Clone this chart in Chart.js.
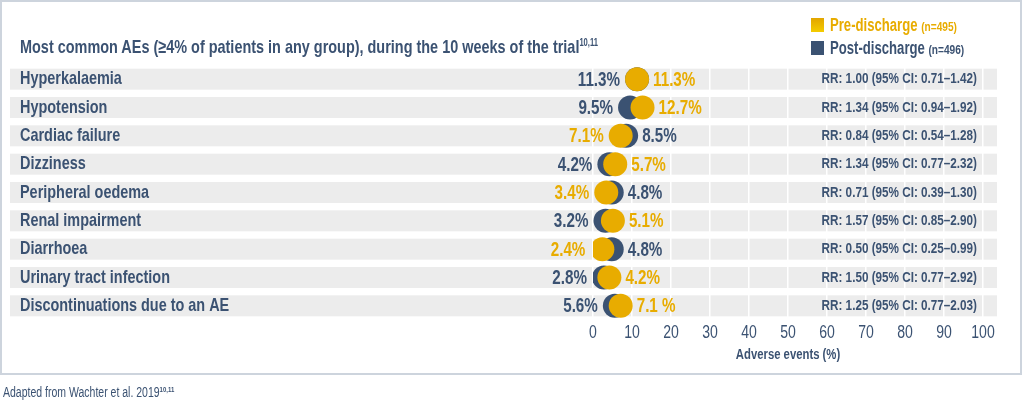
<!DOCTYPE html>
<html>
<head>
<meta charset="utf-8">
<title>Most common AEs</title>
<script src="https://cdn.jsdelivr.net/npm/chart.js@4.4.1/dist/chart.umd.min.js"></script>
<style>
  body { margin: 0; background: #fff; font-family: "Liberation Sans", Arial, sans-serif; color: #3b5272; }
  #wrap { position: relative; width: 1022px; height: 401px; overflow: hidden; }
  #frame { position: absolute; left: 0; top: 0; width: 1022px; height: 375px; border: 2px solid #cdd4dd; box-sizing: border-box; }
  #chart { position: absolute; left: 0; top: 0; }
  .narrow { display: inline-block; transform-origin: 0 50%; white-space: nowrap; }
  .title { position: absolute; left: 20px; top: 36px; font-size: 19px; font-weight: bold; line-height: 22px; }
  .title .narrow { transform: scaleX(0.76); }
  sup { font-size: 10px; vertical-align: 7px; line-height: 0; }
  .legend { position: absolute; left: 811px; font-weight: bold; font-size: 17.5px; line-height: 20px; white-space: nowrap; }
  .legend i { display: inline-block; width: 13px; height: 14px; margin-right: 6px; vertical-align: -1px; }
  .legend .narrow { transform: scaleX(0.75); }
  .legend small { font-size: 13.5px; }
  .pre { top: 15px; color: #e8ac00; }
  .pre i { background: linear-gradient(#e2a500, #f4cc00); }
  .post { top: 38px; color: #3b5272; }
  .post i { background: #3b5272; }
  .footer { position: absolute; left: 3px; top: 384px; font-size: 14px; line-height: 16px; }
  .footer .narrow { transform: scaleX(0.75); }
  .footer sup { font-size: 8px; font-weight: bold; vertical-align: 5px; }
</style>
</head>
<body>
<div id="wrap">
  <div id="frame"></div>
  <canvas id="chart" width="1022" height="401"></canvas>
  <div class="title"><span class="narrow">Most common AEs (≥4% of patients in any group), during the 10 weeks of the trial<sup>10,11</sup></span></div>
  <div class="legend pre"><i></i><span class="narrow">Pre-discharge <small>(n=495)</small></span></div>
  <div class="legend post"><i></i><span class="narrow">Post-discharge <small>(n=496)</small></span></div>
  <div class="footer"><span class="narrow">Adapted from Wachter et al. 2019<sup>10,11</sup></span></div>
</div>
<script>
const categories = [
  "Hyperkalaemia",
  "Hypotension",
  "Cardiac failure",
  "Dizziness",
  "Peripheral oedema",
  "Renal impairment",
  "Diarrhoea",
  "Urinary tract infection",
  "Discontinuations due to an AE"
];
const preDischarge = [11.3, 12.7, 7.1, 5.7, 3.4, 5.1, 2.4, 4.2, 7.1];
const postDischarge = [11.3, 9.5, 8.5, 4.2, 4.8, 3.2, 4.8, 2.8, 5.6];
const riskRatios = [
  "RR: 1.00 (95% CI: 0.71–1.42)",
  "RR: 1.34 (95% CI: 0.94–1.92)",
  "RR: 0.84 (95% CI: 0.54–1.28)",
  "RR: 1.34 (95% CI: 0.77–2.32)",
  "RR: 0.71 (95% CI: 0.39–1.30)",
  "RR: 1.57 (95% CI: 0.85–2.90)",
  "RR: 0.50 (95% CI: 0.25–0.99)",
  "RR: 1.50 (95% CI: 0.77–2.92)",
  "RR: 1.25 (95% CI: 0.77–2.03)"
];
const xTicks = [0, 10, 20, 30, 40, 50, 60, 70, 80, 90, 100];

const gold = "#e8ac00";
const navy = "#3b5272";
const fontName = '"Liberation Sans", Arial, sans-serif';

// The original uses a condensed face that is not installed here,
// so every canvas text is squeezed horizontally around its anchor.
const squeeze = 0.78;
const rawFillText = CanvasRenderingContext2D.prototype.fillText;
CanvasRenderingContext2D.prototype.fillText = function (text, x, y) {
  this.save();
  this.translate(x, y);
  this.scale(squeeze, 1);
  rawFillText.call(this, text, 0, 0);
  this.restore();
};

// value labels as printed (the last one has a space in the original)
const preText = preDischarge.map(v => v.toFixed(1) + "%");
preText[8] = "7.1 %";
const postText = postDischarge.map(v => v.toFixed(1) + "%");

// grey band behind each row
const rowBands = {
  id: "rowBands",
  beforeDraw(chart) {
    const { ctx } = chart;
    const yScale = chart.scales.y;
    ctx.save();
    ctx.fillStyle = "#ececec";
    categories.forEach((c, i) => {
      const py = yScale.getPixelForValue(i);
      ctx.fillRect(10, py - 10.5, 987, 21);
    });
    ctx.restore();
  }
};

// percentages on each side of the pair of circles
const valueLabels = {
  id: "valueLabels",
  afterDatasetsDraw(chart) {
    const { ctx } = chart;
    const pre = chart.getDatasetMeta(0).data;
    const post = chart.getDatasetMeta(1).data;
    ctx.save();
    ctx.font = "bold 19.5px " + fontName;
    ctx.textBaseline = "middle";
    categories.forEach((c, i) => {
      const preLeft = preDischarge[i] < postDischarge[i];
      const minX = Math.min(pre[i].x, post[i].x);
      const maxX = Math.max(pre[i].x, post[i].x);
      const y = pre[i].y + 1;

      ctx.textAlign = "right";
      ctx.fillStyle = preLeft ? gold : navy;
      ctx.fillText(preLeft ? preText[i] : postText[i], minX - 17, y);

      ctx.textAlign = "left";
      ctx.fillStyle = preLeft ? navy : gold;
      ctx.fillText(preLeft ? postText[i] : preText[i], maxX + 16, y);
    });
    ctx.restore();
  }
};

const ctx = document.getElementById("chart").getContext("2d");
const chart = new Chart(ctx, {
  type: "scatter",
  data: {
    datasets: [
      {
        label: "Pre-discharge",
        data: preDischarge.map((v, i) => ({ x: v, y: categories[i] })),
        backgroundColor: gold,
        borderWidth: 0,
        pointRadius: 12,
        pointHoverRadius: 12
      },
      {
        label: "Post-discharge",
        data: postDischarge.map((v, i) => ({ x: v, y: categories[i] })),
        backgroundColor: navy,
        borderWidth: 0,
        pointRadius: 12,
        pointHoverRadius: 12
      }
    ]
  },
  options: {
    responsive: false,
    animation: false,
    devicePixelRatio: 1,
    layout: { padding: { left: 20, right: 39, top: 65, bottom: 31 } },
    plugins: {
      legend: { display: false },
      tooltip: { enabled: false }
    },
    scales: {
      x: {
        type: "linear",
        min: 0,
        max: 100,
        afterBuildTicks: scale => { scale.ticks = xTicks.map(v => ({ value: v })); },
        afterFit: scale => { scale.height = 50; },
        grid: { color: "#ffffff", lineWidth: 1.5, drawTicks: false },
        border: { display: false },
        ticks: {
          padding: 2,
          color: navy,
          font: { family: fontName, size: 18 }
        },
        title: {
          display: true,
          text: "Adverse events (%)",
          color: navy,
          font: { family: fontName, size: 14.5, weight: "bold" },
          padding: { top: 0, bottom: 6 }
        }
      },
      y: {
        type: "category",
        labels: categories,
        offset: true,
        afterFit: scale => { scale.width = 573; },
        grid: { display: false, drawTicks: false },
        border: { display: false },
        ticks: {
          autoSkip: false,
          crossAlign: "far",
          color: navy,
          font: { family: fontName, size: 18.5, weight: "bold" }
        }
      },
      yRR: {
        type: "category",
        position: "right",
        labels: riskRatios,
        offset: true,
        afterFit: scale => { scale.width = 0; },
        grid: { display: false, drawTicks: false },
        border: { display: false },
        ticks: {
          autoSkip: false,
          mirror: true,
          padding: -6,
          color: navy,
          font: { family: fontName, size: 15, weight: "bold" }
        }
      }
    }
  },
  plugins: [rowBands, valueLabels]
});
</script>
</body>
</html>
